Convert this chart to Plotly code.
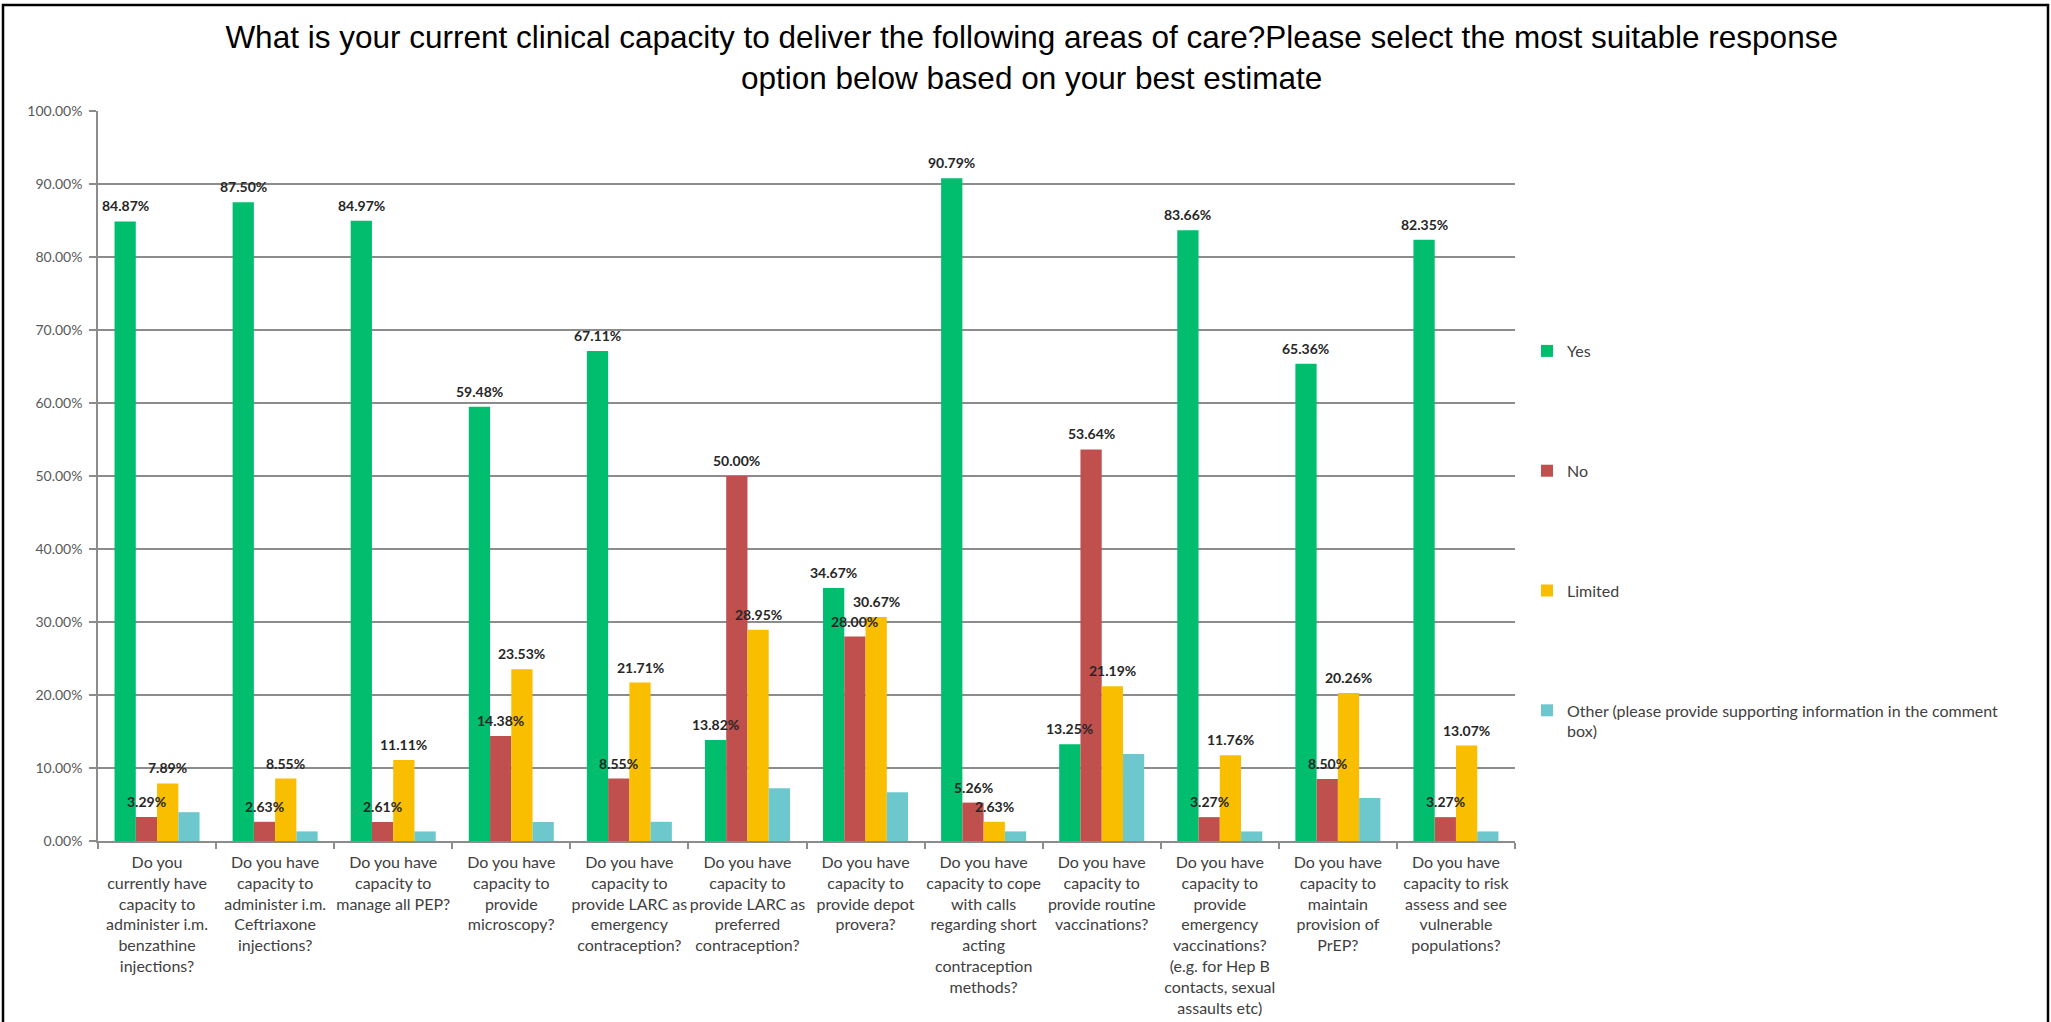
import plotly.graph_objects as go

# Survey questions (x-axis categories)
questions = [
    "Do you<br>currently have<br>capacity to<br>administer i.m.<br>benzathine<br>injections?",
    "Do you have<br>capacity to<br>administer i.m.<br>Ceftriaxone<br>injections?",
    "Do you have<br>capacity to<br>manage all PEP?",
    "Do you have<br>capacity to<br>provide<br>microscopy?",
    "Do you have<br>capacity to<br>provide LARC as<br>emergency<br>contraception?",
    "Do you have<br>capacity to<br>provide LARC as<br>preferred<br>contraception?",
    "Do you have<br>capacity to<br>provide depot<br>provera?",
    "Do you have<br>capacity to cope<br>with calls<br>regarding short<br>acting<br>contraception<br>methods?",
    "Do you have<br>capacity to<br>provide routine<br>vaccinations?",
    "Do you have<br>capacity to<br>provide<br>emergency<br>vaccinations?<br>(e.g. for Hep B<br>contacts, sexual<br>assaults etc)",
    "Do you have<br>capacity to<br>maintain<br>provision of<br>PrEP?",
    "Do you have<br>capacity to risk<br>assess and see<br>vulnerable<br>populations?",
]

# Response shares (%)
yes_pct = [84.87, 87.50, 84.97, 59.48, 67.11, 13.82, 34.67, 90.79, 13.25, 83.66, 65.36, 82.35]
no_pct = [3.29, 2.63, 2.61, 14.38, 8.55, 50.00, 28.00, 5.26, 53.64, 3.27, 8.50, 3.27]
limited_pct = [7.89, 8.55, 11.11, 23.53, 21.71, 28.95, 30.67, 2.63, 21.19, 11.76, 20.26, 13.07]
other_pct = [3.95, 1.32, 1.31, 2.61, 2.63, 7.24, 6.67, 1.32, 11.92, 1.31, 5.88, 1.31]

series_names = ["Yes", "No", "Limited",
                "Other (please provide supporting information in the comment<br>box)"]
series_colors = ["#00BE6E", "#C0504D", "#FABE00", "#6CC8CD"]
series_values = [yes_pct, no_pct, limited_pct, other_pct]
labelled = [True, True, True, False]

W, H = 2051, 1022
ML, MR, MT, MB = 98, 536, 111, 181
PW, PH = W - ML - MR, H - MT - MB
BARGAP = 0.28
GRID = "#8C8C8C"
FONT = "Lato"

fig = go.Figure()
for i, (name, color, vals) in enumerate(zip(series_names, series_colors, series_values)):
    fig.add_trace(go.Bar(
        name=name, x=questions, y=vals,
        marker=dict(color=color, line=dict(width=0)),
        legendgroup=f"g{i}",
    ))

# Value labels centred above each labelled bar
n_series = len(series_values)
bar_w = (1 - BARGAP) / n_series
annotations = []
for s, vals in enumerate(series_values):
    if not labelled[s]:
        continue
    offset = (s - (n_series - 1) / 2) * bar_w
    for c, v in enumerate(vals):
        annotations.append(dict(
            x=c + offset, y=v, xref="x", yref="y",
            text=f"{v:.2f}%", showarrow=False,
            yanchor="bottom", xanchor="center", yshift=5,
            font=dict(family=FONT, size=14, color="#262626", weight="bold"),
        ))

# Outer frame around the whole figure
frame = dict(
    type="rect", xref="paper", yref="paper",
    x0=(3 - ML) / PW, x1=(W - 3 - ML) / PW,
    y0=-(H + 10 - MT - PH) / PH, y1=(H - 5 - MB) / PH,
    line=dict(color="black", width=2.5), fillcolor="rgba(0,0,0,0)",
    layer="above",
)

fig.update_layout(
    width=W, height=H,
    margin=dict(l=ML, r=MR, t=MT, b=MB, pad=0, autoexpand=False),
    paper_bgcolor="white", plot_bgcolor="white",
    barmode="group", bargap=BARGAP, bargroupgap=0,
    title=dict(
        text="What is your current clinical capacity to deliver the following areas of care?Please select the most suitable response<br>option below based on your best estimate",
        x=0.503, xanchor="center", xref="container",
        y=1 - 48 / H, yanchor="top", yref="container",
        font=dict(family="Liberation Sans", size=31.5, color="black"),
    ),
    legend=dict(
        xref="container", yref="container",
        x=1527 / W, xanchor="left",
        y=1 - 334 / H, yanchor="top",
        traceorder="grouped", tracegroupgap=96, valign="top",
        font=dict(family=FONT, size=16, color="#404040"),
        bgcolor="rgba(0,0,0,0)",
    ),
    xaxis=dict(
        type="category", showline=True, linecolor=GRID, linewidth=1.5,
        ticks="outside", tickson="boundaries", ticklen=6, tickcolor=GRID, tickwidth=1.5,
        tickfont=dict(family=FONT, size=16, color="#404040"),
        ticklabelstandoff=6, automargin=False,
        tickangle=0, showgrid=False,
    ),
    yaxis=dict(
        range=[0, 100], dtick=10, tickformat=".2f", ticksuffix="%",
        showgrid=True, gridcolor=GRID, gridwidth=1.5,
        showline=True, linecolor=GRID, linewidth=1.5,
        ticks="outside", ticklen=7, tickcolor=GRID, tickwidth=1.5,
        tickfont=dict(family=FONT, size=14, color="#595959"),
        ticklabelstandoff=4, automargin=False,
        zeroline=False,
    ),
    annotations=annotations,
    shapes=[frame],
)

fig.write_html("out.html")
